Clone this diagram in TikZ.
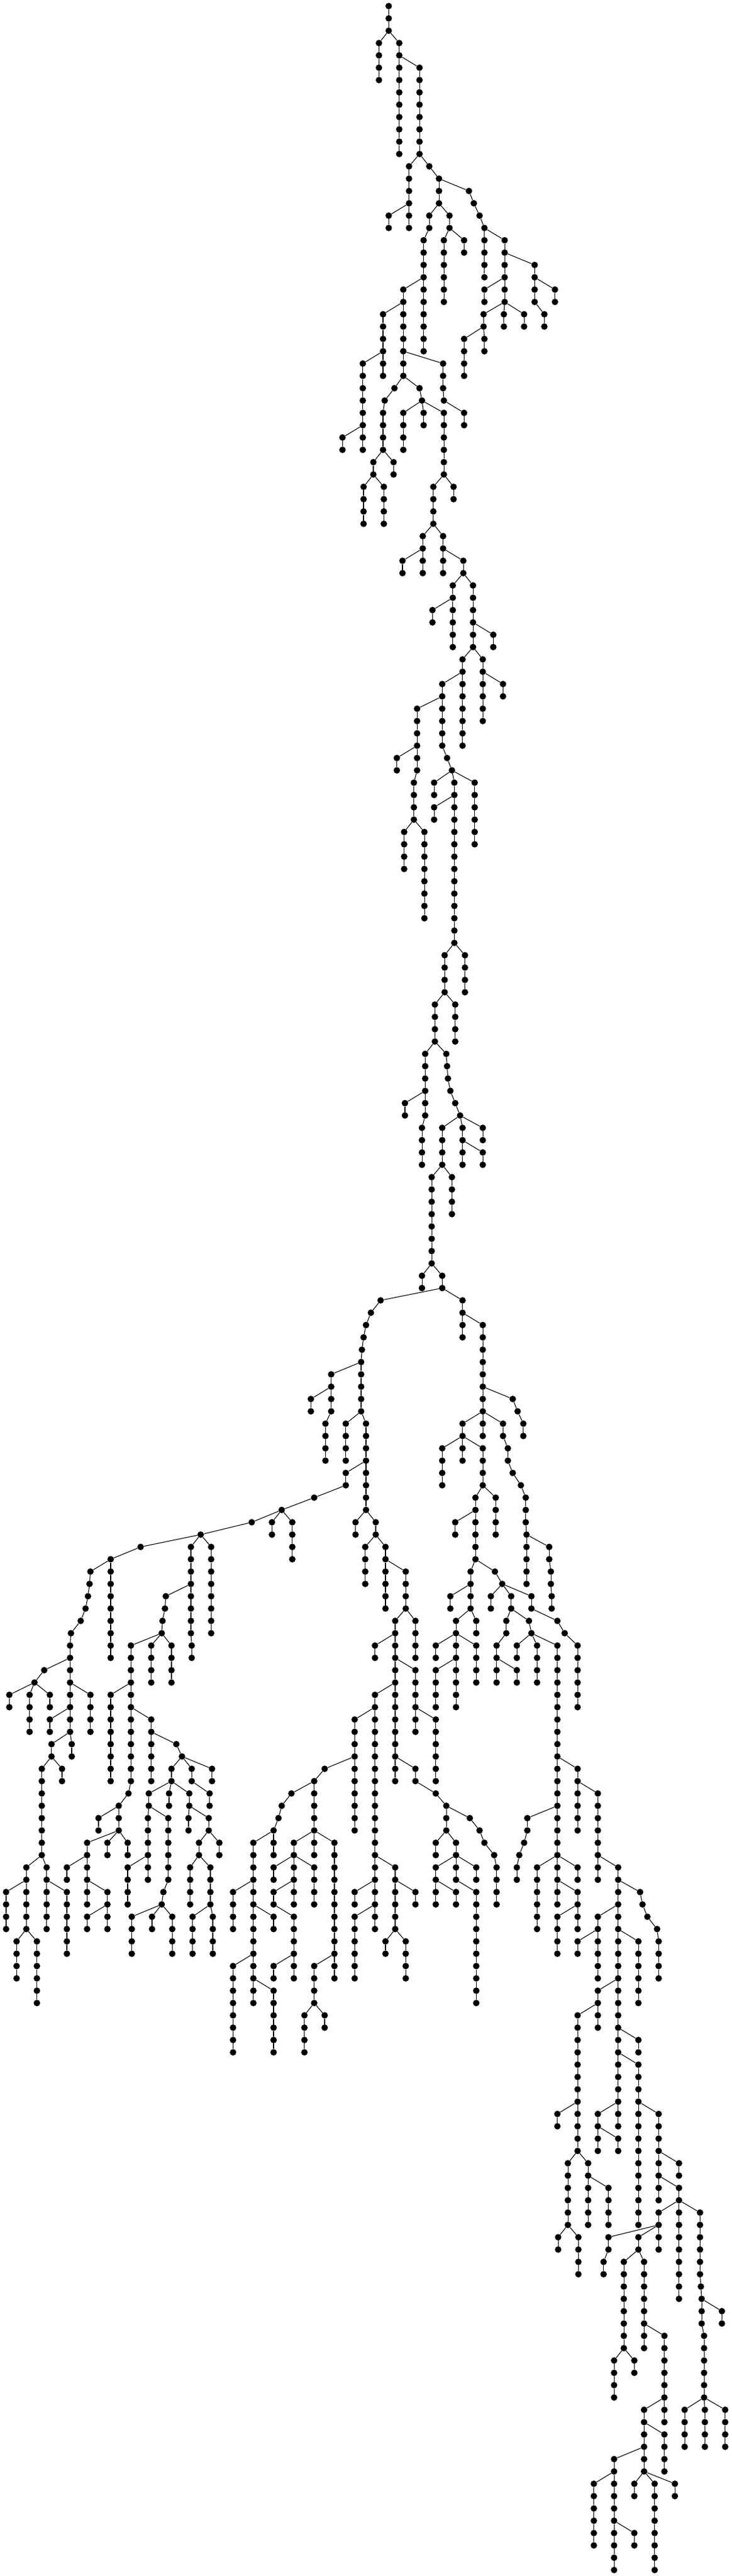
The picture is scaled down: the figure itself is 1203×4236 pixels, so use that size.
\documentclass[tikz,border=0pt]{standalone}
\tikzset{
  dot/.style={circle,fill=black,draw=none,inner sep=0pt,minimum size=10.7pt},
  edge/.style={draw=black,line width=1.1pt}
}
% \C{level of parent}{x of parent, tenths of a unit}{x/count,...}: a chain hanging from that parent
\newcommand\C[3]{%
  \xdef\pL{#1}\xdef\pX{#2}%
  \foreach \X/\N in {#3}{%
    \foreach \i in {1,...,\N}{%
      \pgfmathtruncatemacro\nL{\pL+1}%
      \node[dot] (n\nL-\X) at ({\X*0.1},{-(10+20.27*\nL)}) {};
      \draw[edge] (n\pL-\pX) -- (n\nL-\X);
      \xdef\pL{\nL}\xdef\pX{\X}%
    }%
  }%
}
\begin{document}
\begin{tikzpicture}[x=1pt,y=1pt]
\useasboundingbox (0,0) rectangle (1203,-4236);
\fill[white] (0,0) rectangle (1203,-4236);
\node[dot] (n0-6393) at (639.3,-10) {};
\C{0}{6393}{6393/2}
\C{2}{6393}{6233/4}
\C{2}{6393}{6567/10}
\C{4}{6567}{6900/8}
\C{12}{6900}{6727/6}
\C{16}{6727}{6393/2}
\C{12}{6900}{7060/1,7220/3}
\C{16}{7220}{7060/2,6967/10}
\C{16}{7220}{7393/2,7300/6}
\C{18}{7393}{7633/2}
\C{14}{7220}{7713/1,7793/1,7887/1,7967/5}
\C{18}{7967}{8300/6}
\C{22}{6967}{6633/8}
\C{24}{6633}{6300/6}
\C{28}{6300}{5967/8}
\C{34}{5967}{5633/2}
\C{30}{6633}{6487/1,6327/1,6300/4}
\C{36}{6300}{6473/2}
\C{36}{6300}{6140/2}
\C{38}{6140}{5980/4}
\C{38}{6140}{6313/4}
\C{30}{6633}{6900/1,6940/1}
\C{32}{6940}{6633/4}
\C{32}{6940}{6967/2}
\C{32}{6940}{7300/6}
\C{38}{7300}{7460/2}
\C{38}{7300}{7127/4}
\C{42}{7127}{6953/4}
\C{42}{7127}{7287/4}
\C{28}{6633}{7287/3,7300/1,7633/2}
\C{20}{8300}{8793/4,8953/2}
\C{22}{8793}{9127/2}
\C{22}{8300}{7967/2}
\C{24}{8300}{8287/2}
\C{24}{8300}{8620/2}
\C{24}{8300}{7953/2}
\C{26}{7953}{7967/2}
\C{26}{7953}{7633/4}
\C{44}{6953}{6620/2}
\C{44}{7287}{7620/2}
\C{46}{7620}{7447/6}
\C{46}{7620}{7780/6}
\C{48}{7447}{7113/2}
\C{50}{7780}{8113/2}
\C{52}{7780}{7607/8}
\C{52}{7780}{7940/6}
\C{54}{7940}{8273/2}
\C{54}{7607}{7273/6}
\C{56}{7273}{6860/6}
\C{60}{6860}{6527/2}
\C{62}{6860}{6807/4}
\C{66}{6807}{6647/4}
\C{66}{6807}{6980/8}
\C{60}{7273}{7353/1,7433/1}
\C{62}{7433}{7140/2}
\C{62}{7433}{7473/14}
\C{64}{7473}{7140/2}
\C{62}{7433}{7807/6}
\C{76}{7473}{7313/4}
\C{76}{7473}{7647/4}
\C{80}{7313}{7153/4}
\C{80}{7313}{7487/4}
\C{84}{7153}{6993/6}
\C{88}{6993}{6660/2}
\C{90}{6993}{6940/4}
\C{84}{7153}{7340/1,7353/1,7367/1,7407/1,7487/1,7567/1}
\C{90}{7567}{7273/4}
\C{90}{7567}{7607/4}
\C{90}{7567}{7940/2}
\C{92}{7607}{7940/2}
\C{94}{7273}{7100/8}
\C{94}{7273}{7433/4}
\C{102}{7100}{6940/2}
\C{102}{7100}{7273/2}
\C{104}{7273}{7607/4}
\C{106}{7607}{7940/8}
\C{104}{7273}{6260/1,6100/1,6020/1,5980/1,5953/1,5940/5}
% right half of the wide part
\C{112}{7940}{8433/1,8513/1,8607/2}
\C{114}{7940}{7940/2}
\C{114}{7940}{7607/2}
\C{114}{7940}{8273/2,8353/2,8433/1,8567/1,8647/3,8660/5}
\C{124}{8660}{9033/2,9060/2,9073/2}
\C{116}{7607}{7273/4}
\C{116}{7607}{7607/2}
\C{116}{7607}{7940/4}
\C{120}{7940}{8153/4}
\C{120}{7940}{7820/6}
\C{122}{7820}{7487/2}
\C{126}{7820}{7740/4}
\C{128}{7740}{7407/2}
\C{130}{7740}{7833/2}
\C{130}{7740}{7500/2}
\C{132}{7500}{7167/2}
\C{132}{7500}{7833/4}
\C{132}{7500}{7500/6}
\C{134}{7500}{7167/4}
\C{126}{7820}{8140/1,8260/1}
\C{128}{8260}{8073/2}
\C{128}{8260}{8407/2}
\C{130}{8407}{8327/2,8167/4}
\C{134}{8167}{8500/2}
\C{130}{8407}{8700/1,8740/1}
\C{132}{8740}{8500/2}
\C{132}{8740}{8833/4}
\C{132}{8740}{9167/18}
\C{128}{8260}{8740/2,9167/1,9287/1,9500/6}
\C{142}{9167}{9500/6}
\C{144}{9500}{9833/8}
\C{150}{9833}{10167/20}
\C{146}{9167}{8673/2,8620/1,8540/1,8500/2}
\C{150}{9167}{8833/6}
\C{150}{9167}{9167/4}
\C{150}{9167}{9500/2}
\C{152}{9167}{9500/4}
\C{154}{9500}{9167/4}
\C{152}{10167}{10527/1,10567/1,10647/1,10807/1,10833/4}
\C{154}{10167}{9833/6}
\C{156}{9833}{9500/2}
\C{156}{10167}{10500/6}
\C{160}{10167}{9833/4}
\C{162}{9833}{9500/12}
\C{164}{10167}{10500/2}
\C{170}{9500}{9167/2}
\C{174}{9500}{9340/6}
\C{180}{9340}{9180/2}
\C{180}{9340}{9513/4}
\C{174}{9500}{9673/6}
\C{176}{9673}{10007/4}
\C{170}{10167}{10167/2}
\C{170}{10167}{9833/4}
\C{172}{9833}{10167/2}
\C{166}{10167}{10500/14}
\C{170}{10500}{10833/8}
\C{174}{10833}{11167/2}
\C{176}{10833}{11167/2}
\C{178}{11167}{10833/4}
\C{178}{11167}{11167/8}
\C{178}{11167}{11513/6,11527/1,11540/3,11580/6}
\C{186}{11540}{11873/2}
\C{180}{10833}{10007/2,9927/2}
\C{180}{10833}{10500/2}
\C{182}{10500}{10260/8}
\C{182}{10500}{10593/8}
\C{188}{10593}{10927/8}
\C{190}{10260}{10100/4}
\C{190}{10260}{10433/2}
\C{194}{10927}{10593/6}
\C{196}{10593}{10927/4}
\C{198}{10593}{10100/10}
\C{200}{10100}{9767/6}
\C{204}{10100}{10433/2}
\C{200}{10593}{10433/2}
\C{200}{10593}{10767/8}
\C{200}{10593}{11100/2}
\C{194}{11580}{11260/4}
\C{194}{11580}{11593/4}
\C{194}{11580}{11927/4}
% left half of the wide part
\C{110}{5940}{5447/2}
\C{112}{5447}{5113/2}
\C{112}{5447}{5447/2,5353/4}
\C{114}{5940}{5687/4}
\C{114}{5940}{6020/8}
\C{118}{6020}{5687/2,5167/1}
\C{121}{5167}{4633/1}
\C{122}{4633}{4140/1,3300/1}
\C{122}{4633}{4473/2}
\C{122}{4633}{4807/4}
\C{124}{3300}{3473/8}
\C{124}{3300}{3140/8,3153/2}
\C{128}{3140}{2727/1,2713/1,2673/1,2660/1}
\C{132}{2660}{2487/4}
\C{132}{2660}{2820/4}
\C{132}{2660}{2153/12}
\C{136}{2153}{1820/8}
\C{138}{2153}{2487/6}
\C{140}{2487}{2900/1,2993/1}
\C{142}{2993}{2820/2}
\C{142}{2993}{3153/2}
\C{142}{2993}{3487/2}
\C{144}{2153}{2113/1,1953/1}
\C{144}{2820}{2447/2}
\C{144}{2820}{2780/2}
\C{144}{2820}{3113/2}
\C{144}{3153}{3447/2}
\C{124}{3300}{2313/1,1820/9}
\C{126}{1820}{1487/1,1473/1,1447/1,1407/1,1327/1,1167/1,1153/8}
\C{134}{1153}{727/1,567/1}
\C{136}{567}{153/2}
\C{136}{567}{487/4}
\C{136}{567}{820/2}
\C{136}{1153}{1487/4}
\C{138}{1153}{820/2}
\C{140}{1153}{1180/2}
\C{140}{1153}{847/2}
\C{142}{847}{1020/2}
\C{142}{847}{687/8}
\C{150}{687}{433/6}
\C{150}{687}{767/6}
\C{152}{433}{100/4}
\C{152}{767}{1100/6}
\C{156}{433}{273/4}
\C{156}{433}{607/6}
\C{146}{1953}{1620/2}
\C{146}{1953}{1953/2}
\C{148}{1953}{1433/6}
\C{148}{1953}{1767/2}
\C{148}{1953}{2100/2}
\C{150}{1433}{1100/2}
\C{152}{1433}{1767/2}
\C{154}{1767}{1433/2}
\C{154}{1767}{1767/2}
\C{146}{2447}{2433/6}
\C{146}{2447}{2767/6,2687/1,2660/1}
\C{150}{2433}{2100/4}
\C{154}{2660}{2167/4}
\C{154}{2660}{2500/2}
\C{154}{2660}{2833/4}
\C{146}{3113}{3100/2}
\C{146}{3113}{3433/2}
\C{148}{3433}{3607/2}
\C{148}{3433}{3273/2}
\C{150}{3273}{3127/4}
\C{150}{3273}{3460/4}
\C{154}{3460}{3167/4}
\C{154}{3460}{3500/4}
% middle part
\C{122}{6020}{5847/2}
\C{122}{6020}{6180/2}
\C{124}{6180}{6007/4}
\C{124}{6180}{6340/6}
\C{126}{6340}{6673/4}
\C{130}{6673}{6833/4}
\C{130}{6673}{6500/14}
\C{132}{6500}{6167/2}
\C{134}{6500}{6833/6}
\C{138}{6833}{7167/6}
\C{136}{6500}{6167/2}
\C{138}{6167}{5833/4}
\C{138}{6167}{6167/18}
\C{142}{6500}{6833/2}
\C{142}{5833}{5833/6}
\C{142}{5833}{5340/1,5167/5}
\C{148}{5167}{5167/2}
\C{148}{5167}{4833/2}
\C{148}{5167}{5500/12}
\C{150}{4833}{4500/2}
\C{150}{4833}{5167/4}
\C{150}{4833}{4833/4}
\C{152}{4833}{4500/2}
\C{154}{4500}{4833/6}
\C{158}{4833}{4500/2}
\C{158}{5500}{5167/4}
\C{162}{5167}{5007/4}
\C{162}{5167}{5340/2}
\C{144}{5167}{4793/1,4633/1,4580/1,4500/1}
\C{148}{4500}{4500/2}
\C{148}{4500}{4167/14}
\C{152}{4167}{3833/4}
\C{154}{4167}{4500/2}
\C{158}{4167}{3833/8}
\C{160}{4167}{4500/6}
\C{150}{6167}{6500/6}
\C{152}{6167}{5833/2}
\C{154}{6167}{5833/6}
\C{156}{6500}{6340/2}
\C{156}{6500}{6673/4}
\C{152}{6500}{6833/2}
\C{144}{6833}{7167/1,7340/3}
\C{146}{7340}{7727/1,7887/1,7967/1,8127/1,8167/4}
\C{148}{7340}{7167/2}
\C{148}{7340}{7500/4}
\C{150}{7500}{7167/4}
\C{150}{7500}{7833/2}
\C{152}{7167}{7500/2}
\C{152}{7500}{7833/10}
\end{tikzpicture}
\end{document}
